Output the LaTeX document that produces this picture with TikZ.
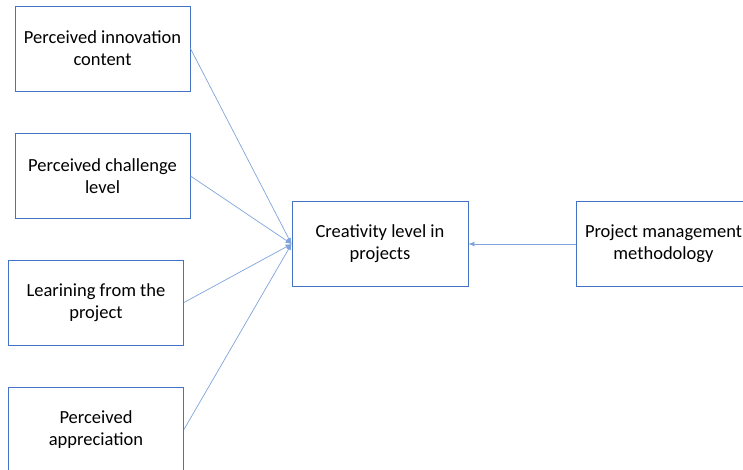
\documentclass[tikz,border=0pt]{standalone}
\usepackage{fontspec}
\setmainfont{Carlito}
\usepackage{tikz}
\usetikzlibrary{positioning, arrows.meta}
\definecolor{boxblue}{HTML}{4472C4}
\definecolor{lineblue}{HTML}{7FA3DC}

\begin{document}
\begin{tikzpicture}[
    x=1pt, y=-1pt,
    every factor/.style={draw=boxblue, line width=0.9pt, minimum width=175pt,
        minimum height=85pt, align=center,
        font=\fontsize{18.5}{22}\selectfont},
    link/.style={draw=lineblue, line width=0.7pt, -{Latex[length=6pt, width=5pt]}}
]
    \clip (0,0) rectangle (743,470);
    % Four influencing factors on the left,
    % the outcome in the middle,
    % the methodology on the right (cut by the frame).
    \node[every factor] (innov) at (102.5,48.5) {Perceived innovation\\content};
    \node[every factor] (chall) at (102.5,176) {Perceived challenge\\level};
    \node[every factor] (learn) at (96,302.5) {Learining from the\\project};
    \node[every factor] (apprec) at (96,429.5) {Perceived\\appreciation};
    \node[every factor, minimum width=176pt] (creat) at (380,244) {Creativity level in\\projects};
    \node[every factor] (method) at (663.5,244) {Project management\\methodology};

    \path
        (innov.east) edge[link] (creat.west)
        (chall.east) edge[link] (creat.west)
        (learn.east) edge[link] (creat.west)
        (apprec.east) edge[link] (creat.west)
        (method.west) edge[link] (creat.east);
\end{tikzpicture}
\end{document}
